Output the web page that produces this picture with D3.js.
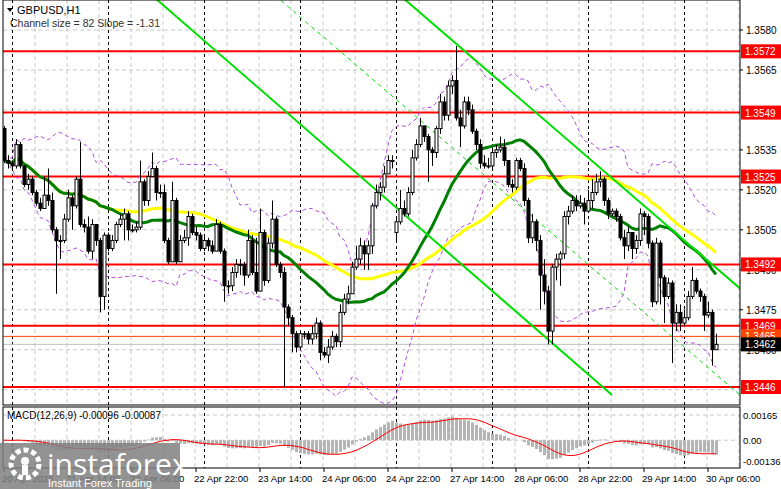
<!DOCTYPE html>
<html><head><meta charset="utf-8">
<script src="https://cdn.jsdelivr.net/npm/d3@7"></script>
<style>body{margin:0;background:#fff}svg{display:block;font-family:"Liberation Sans",Arial,sans-serif}</style>
</head><body><svg id="c" width="781" height="489"></svg>
<script>
const firstOpen = 1.3543;
const gapOpens = {98: 1.3504};
const closes = [1.3531,1.3530,1.3529,1.3537,1.3529,1.3522,1.3524,1.3519,1.3515,1.3513,1.3518,1.3516,1.3505,1.3501,1.3501,1.3509,1.3517,1.3514,1.3524,1.3507,
1.3506,1.3497,1.3507,1.3501,1.3480,1.3503,1.3498,1.3501,1.3507,1.3509,1.3511,1.3505,1.3505,1.3506,1.3523,1.3516,1.3525,1.3528,1.3519,1.3519,
1.3501,1.3493,1.3516,1.3493,1.3501,1.3502,1.3510,1.3504,1.3503,1.3498,1.3501,1.3499,1.3497,1.3507,1.3497,1.3484,1.3484,1.3489,1.3492,1.3492,
1.3488,1.3501,1.3489,1.3482,1.3504,1.3486,1.3500,1.3509,1.3492,1.3489,1.3476,1.3472,1.3466,1.3461,1.3466,1.3466,1.3464,1.3466,1.3470,1.3459,
1.3458,1.3461,1.3465,1.3463,1.3474,1.3479,1.3481,1.3491,1.3494,1.3499,1.3496,1.3499,1.3514,1.3519,1.3521,1.3526,1.3531,1.3531,1.3508,1.3513,
1.3511,1.3519,1.3532,1.3537,1.3544,1.3540,1.3535,1.3534,1.3543,1.3553,1.3548,1.3559,1.3561,1.3547,1.3544,1.3553,1.3550,1.3542,1.3537,1.3530,
1.3529,1.3529,1.3534,1.3535,1.3536,1.3531,1.3522,1.3521,1.3531,1.3528,1.3516,1.3502,1.3508,1.3501,1.3488,1.3482,1.3467,1.3491,1.3494,1.3496,
1.3510,1.3512,1.3516,1.3514,1.3515,1.3512,1.3516,1.3519,1.3523,1.3524,1.3516,1.3511,1.3512,1.3510,1.3502,1.3499,1.3504,1.3498,1.3501,1.3511,
1.3510,1.3500,1.3478,1.3500,1.3487,1.3480,1.3485,1.3470,1.3474,1.3470,1.3472,1.3480,1.3486,1.3482,1.3480,1.3473,1.3474,1.3460,1.3462];
const highs = [1.3544,1.3533,1.3531,1.3539,1.3538,1.3529,1.3526,1.3525,1.3520,1.3517,1.3525,1.3528,1.3519,1.3506,1.3503,1.3511,1.3520,1.3518,1.3525,1.3538,
1.3509,1.3510,1.3509,1.3507,1.3502,1.3504,1.3504,1.3503,1.3508,1.3511,1.3513,1.3512,1.3507,1.3508,1.3531,1.3524,1.3527,1.3534,1.3529,1.3522,
1.3522,1.3502,1.3523,1.3517,1.3503,1.3505,1.3512,1.3511,1.3506,1.3504,1.3503,1.3502,1.3501,1.3509,1.3508,1.3498,1.3486,1.3491,1.3494,1.3494,
1.3493,1.3505,1.3503,1.3502,1.3513,1.3505,1.3502,1.3516,1.3510,1.3493,1.3491,1.3477,1.3473,1.3467,1.3467,1.3467,1.3467,1.3469,1.3472,1.3471,
1.3461,1.3464,1.3467,1.3466,1.3477,1.3481,1.3484,1.3493,1.3499,1.3502,1.3501,1.3501,1.3515,1.3522,1.3523,1.3529,1.3533,1.3533,1.3510,1.3520,
1.3516,1.3521,1.3535,1.3539,1.3547,1.3544,1.3541,1.3536,1.3544,1.3556,1.3555,1.3561,1.3563,1.3574,1.3550,1.3555,1.3555,1.3552,1.3543,1.3539,
1.3533,1.3532,1.3536,1.3537,1.3540,1.3539,1.3531,1.3524,1.3532,1.3532,1.3530,1.3517,1.3511,1.3509,1.3503,1.3494,1.3484,1.3492,1.3496,1.3497,
1.3512,1.3514,1.3518,1.3518,1.3518,1.3517,1.3520,1.3524,1.3526,1.3527,1.3525,1.3517,1.3513,1.3513,1.3511,1.3505,1.3506,1.3504,1.3503,1.3513,
1.3512,1.3511,1.3501,1.3502,1.3501,1.3488,1.3487,1.3486,1.3477,1.3477,1.3475,1.3482,1.3491,1.3487,1.3483,1.3481,1.3478,1.3475,1.3466];
const lows = [1.3530,1.3528,1.3528,1.3528,1.3528,1.3521,1.3520,1.3518,1.3514,1.3512,1.3513,1.3514,1.3504,1.3481,1.3494,1.3500,1.3508,1.3505,1.3513,1.3506,
1.3504,1.3496,1.3494,1.3499,1.3474,1.3475,1.3497,1.3497,1.3500,1.3506,1.3501,1.3501,1.3504,1.3504,1.3505,1.3514,1.3514,1.3526,1.3516,1.3517,
1.3500,1.3492,1.3493,1.3492,1.3494,1.3500,1.3499,1.3503,1.3501,1.3497,1.3497,1.3497,1.3496,1.3497,1.3496,1.3478,1.3481,1.3482,1.3487,1.3488,
1.3484,1.3487,1.3488,1.3481,1.3482,1.3484,1.3485,1.3498,1.3491,1.3487,1.3446,1.3469,1.3459,1.3459,1.3460,1.3464,1.3462,1.3462,1.3464,1.3456,
1.3457,1.3455,1.3460,1.3461,1.3461,1.3473,1.3477,1.3481,1.3490,1.3492,1.3490,1.3490,1.3496,1.3513,1.3516,1.3519,1.3526,1.3528,1.3501,1.3507,
1.3510,1.3510,1.3518,1.3531,1.3536,1.3538,1.3523,1.3529,1.3532,1.3541,1.3546,1.3546,1.3556,1.3546,1.3536,1.3543,1.3548,1.3541,1.3535,1.3528,
1.3528,1.3528,1.3528,1.3532,1.3534,1.3529,1.3521,1.3519,1.3520,1.3527,1.3514,1.3500,1.3500,1.3497,1.3475,1.3477,1.3462,1.3462,1.3486,1.3484,
1.3494,1.3507,1.3511,1.3512,1.3513,1.3507,1.3512,1.3513,1.3518,1.3521,1.3514,1.3509,1.3510,1.3508,1.3501,1.3494,1.3497,1.3494,1.3496,1.3499,
1.3503,1.3498,1.3476,1.3477,1.3477,1.3470,1.3479,1.3455,1.3467,1.3467,1.3469,1.3471,1.3479,1.3481,1.3478,1.3467,1.3472,1.3454,1.3460];
const priceTicks = [1.3580,1.3565,1.3535,1.3520,1.3505,1.3490,1.3475,1.3460];
const levels = [1.3572,1.3549,1.3525,1.3492,1.3469,1.3446];
const orangeLevel = 1.3465, bidLevel = 1.3462;
const dateLabels = ["20 Apr 2025","21 Apr 14:00","22 Apr 06:00","22 Apr 22:00","23 Apr 14:00","24 Apr 06:00","24 Apr 22:00","27 Apr 14:00","28 Apr 06:00","28 Apr 22:00","29 Apr 14:00","30 Apr 06:00"];
const daySeparators = [2,26,50,74,98,122,146,170];
const channels = [{i0:37,p0:1.3593,i1:152,p1:1.3443,dash:false},{i0:99,p0:1.3593,i1:184,p1:1.3483,dash:false},{i0:67.75,p0:1.3593,i1:184,p1:1.3443,dash:true}];
const macdTicks = [0.00165,0.00,-0.00136];

const svg = d3.select("#c");
const L=3,R=740,T=0,B=405, MT=407, MB=468;
const x = d3.scaleLinear().domain([0,178]).range([4,716]);
const y = d3.scaleLinear().domain([1.3446,1.3580]).range([387,30]);
const ym = d3.scaleLinear().domain([-0.00136,0.00165]).range([461,415]);
const opens = closes.map((c,i)=> gapOpens[i]!==undefined?gapOpens[i]:(i===0?firstOpen:closes[i-1]));

const defs=svg.append("defs");
defs.append("clipPath").attr("id","cp").append("rect").attr("x",L).attr("y",T).attr("width",R-L).attr("height",B-T);
defs.append("clipPath").attr("id","cpm").append("rect").attr("x",L).attr("y",MT).attr("width",R-L).attr("height",MB-MT);

const g = svg.append("g");
for(let gx=35; gx<R; gx+=32){ [[T,B],[MT,MB]].forEach(([a,b])=>g.append("line").attr("x1",gx).attr("x2",gx).attr("y1",a).attr("y2",b).attr("stroke","#c8c8c8").attr("stroke-dasharray","4,3")); }
[1.3580,1.3565,1.3550,1.3535,1.3520,1.3505,1.3490,1.3475,1.3460,1.3445].forEach(p=>g.append("line").attr("x1",L).attr("x2",R).attr("y1",y(p)).attr("y2",y(p)).attr("stroke","#c8c8c8").attr("stroke-dasharray","4,3"));
[0,0.00165].forEach(v=>g.append("line").attr("x1",L).attr("x2",R).attr("y1",ym(v)).attr("y2",ym(v)).attr("stroke","#c8c8c8").attr("stroke-dasharray","4,3"));
daySeparators.forEach(i=>{const sx=x(i)+0.5; [[T,B],[MT,MB]].forEach(([a,b])=>g.append("line").attr("x1",sx).attr("x2",sx).attr("y1",a).attr("y2",b).attr("stroke","#000").attr("stroke-dasharray","3,3"));});

const main = svg.append("g").attr("clip-path","url(#cp)");
levels.forEach(p=>main.append("line").attr("x1",L).attr("x2",R).attr("y1",y(p)).attr("y2",y(p)).attr("stroke","#ff0000").attr("stroke-width",2));
main.append("line").attr("x1",L).attr("x2",R).attr("y1",y(orangeLevel)).attr("y2",y(orangeLevel)).attr("stroke","#ff4500").attr("stroke-width",1);
main.append("line").attr("x1",L).attr("x2",R).attr("y1",y(bidLevel)).attr("y2",y(bidLevel)).attr("stroke","#c0c0c0").attr("stroke-width",1);

function sma(n){return closes.map((c,i)=>d3.mean(closes.slice(Math.max(0,i-n+1),i+1)));}
function sd(n){return closes.map((c,i)=>{const s=closes.slice(Math.max(0,i-n+1),i+1);return s.length>1?d3.deviation(s):0;});}
const maG=sma(28), ma50=sma(50), mb=sma(20), dev=sd(20);
const line = d3.line().x((d,i)=>x(i)).y(d=>y(d));
main.append("path").attr("d",line(mb.map((m,i)=>m+2*dev[i]))).attr("fill","none").attr("stroke","#b44ee0").attr("stroke-dasharray","4,3");
main.append("path").attr("d",line(mb.map((m,i)=>m-2*dev[i]))).attr("fill","none").attr("stroke","#b44ee0").attr("stroke-dasharray","4,3");
main.append("path").attr("d",line(ma50)).attr("fill","none").attr("stroke","#ffff00").attr("stroke-width",3);
main.append("path").attr("d",line(maG)).attr("fill","none").attr("stroke","#008000").attr("stroke-width",3);
channels.forEach(c=>main.append("line").attr("x1",x(c.i0)).attr("y1",y(c.p0)).attr("x2",x(c.i1)).attr("y2",y(c.p1)).attr("stroke","#00e000").attr("stroke-width",c.dash?1:2).attr("stroke-dasharray",c.dash?"4,4":null));

closes.forEach((c,i)=>{
  const o=opens[i], h=Math.max(highs[i],o,c), l=Math.min(lows[i],o,c), cx=x(i);
  main.append("line").attr("x1",cx+0.5).attr("x2",cx+0.5).attr("y1",y(h)).attr("y2",y(l)).attr("stroke","#000");
  const top=y(Math.max(o,c)), bot=y(Math.min(o,c));
  main.append("rect").attr("x",cx-1).attr("y",top).attr("width",3).attr("height",Math.max(1,bot-top)).attr("fill",c>=o?"#fff":"#000").attr("stroke","#000").attr("stroke-width",1);
});

function ema(arr,n){const k=2/(n+1);let e=arr[0];return arr.map(v=>e=v*k+e*(1-k));}
const e12=ema(closes,12), e26=ema(closes,26);
const macd=closes.map((c,i)=>e12[i]-e26[i]);
const sig=macd.map((m,i)=>d3.mean(macd.slice(Math.max(0,i-8),i+1)));
const mg=svg.append("g").attr("clip-path","url(#cpm)");
macd.forEach((m,i)=>mg.append("rect").attr("x",x(i)-1).attr("width",3).attr("y",Math.min(ym(m),ym(0))).attr("height",Math.abs(ym(m)-ym(0))).attr("fill","#b4b4b4"));
mg.append("path").attr("d",d3.line().x((d,i)=>x(i)).y(d=>ym(d))(sig)).attr("fill","none").attr("stroke","#ff0000").attr("stroke-width",1);

svg.append("rect").attr("x",L).attr("y",T).attr("width",R-L).attr("height",B-T).attr("fill","none").attr("stroke","#000");
svg.append("rect").attr("x",L).attr("y",MT).attr("width",R-L).attr("height",MB-MT).attr("fill","none").attr("stroke","#000");

const ax=svg.append("g").attr("font-size",10).attr("fill","#000");
priceTicks.forEach(p=>{ax.append("line").attr("x1",R).attr("x2",R+3).attr("y1",y(p)).attr("y2",y(p)).attr("stroke","#000");ax.append("text").attr("x",R+6).attr("y",y(p)+4).text(p.toFixed(4));});
function tag(p,bg,fg){const yy=y(p);ax.append("rect").attr("x",R+1).attr("y",yy-7).attr("width",40).attr("height",14).attr("fill",bg);ax.append("text").attr("x",R+5).attr("y",yy+4).attr("fill",fg).text(p.toFixed(4));}
levels.forEach(p=>tag(p,"#ff0000","#fff"));
tag(orangeLevel,"#ff4500","#fff");
tag(bidLevel,"#000","#fff");
macdTicks.forEach(v=>ax.append("text").attr("x",R+3).attr("y",ym(v)+4).attr("font-size",9.5).text(v===0?"0.00":v.toFixed(5)));
dateLabels.forEach((t,k)=>{const i=16*k; ax.append("line").attr("x1",x(i)).attr("x2",x(i)).attr("y1",MB).attr("y2",MB+4).attr("stroke","#000"); ax.append("text").attr("x",x(i)-2).attr("y",482).attr("font-size",9.6).text(t);});

svg.append("path").attr("d","M7,8 L13,8 L10,12 Z").attr("fill","#000");
svg.append("text").attr("x",17).attr("y",14).attr("font-size",11).text("GBPUSD,H1");
svg.append("text").attr("x",10).attr("y",27).attr("font-size",10.5).attr("fill","#303030").text("Channel size = 82 Slope = -1.31");
svg.append("text").attr("x",7).attr("y",419).attr("font-size",10).text("MACD(12,26,9) -0.00096 -0.00087");

const w=svg.append("g");
w.append("rect").attr("x",0).attr("y",443).attr("width",180).attr("height",46).attr("fill","#808080").attr("opacity",0.85);
w.append("circle").attr("cx",25).attr("cy",464).attr("r",14).attr("fill","none").attr("stroke","#fff").attr("stroke-width",5).attr("stroke-dasharray","5,3");
w.append("circle").attr("cx",25).attr("cy",461).attr("r",4).attr("fill","#fff");
w.append("rect").attr("x",22).attr("y",465).attr("width",6).attr("height",10).attr("fill","#fff");
w.append("text").attr("x",47).attr("y",475).attr("font-size",30).attr("fill","#fff").attr("font-family","Open Sans, sans-serif").text("instaforex");
w.append("text").attr("x",48).attr("y",487).attr("font-size",11).attr("fill","#fff").text("Instant Forex Trading");
</script></body></html>
